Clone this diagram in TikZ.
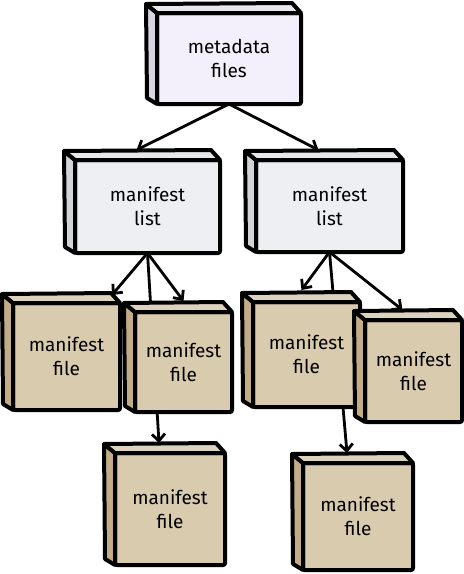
\documentclass[tikz,border=0pt]{standalone}
\usepackage{fontspec}
\setmainfont{Fira Sans}
\usetikzlibrary{arrows.meta,calc}
\pgfdeclarelayer{back}
\pgfsetlayers{back,main}
\definecolor{metafill}{HTML}{F4F0FB}
\definecolor{metaside}{HTML}{D9D4E2}
\definecolor{listfill}{HTML}{EDEFF3}
\definecolor{listside}{HTML}{D2D4D8}
\definecolor{filefill}{HTML}{D9CBAE}
\definecolor{fileside}{HTML}{C2AD88}
\tikzset{
  box/.style={draw=black, line width=4pt, rounded corners=2pt, align=center, inner sep=0pt,
    outer sep=0pt, font=\fontsize{19}{24}\selectfont},
  metabox/.style={box, fill=metafill},
  listbox/.style={box, fill=listfill},
  filebox/.style={box, fill=filefill},
  face/.style={line width=4pt, line join=round},
  link/.style={line width=2.8pt, -{Straight Barb[length=7pt,width=13pt,line width=2.8pt]}},
}
\begin{document}
\begin{tikzpicture}[x=1pt,y=-1pt]
\useasboundingbox (0,0) rectangle (464,574);
% metadata
\node[metabox, minimum width=144pt, minimum height=91pt] (meta) at (229,58.5) {metadata\\files};
% manifest lists
\node[listbox, minimum width=145pt, minimum height=93pt] (listL) at (147.5,206.5) {manifest\\list};
\node[listbox, minimum width=147pt, minimum height=92pt] (listR) at (329.5,206) {manifest\\list};
% manifest files
\node[filebox, minimum width=107pt, minimum height=107pt] (fileA) at (66.5,356.5) {manifest\\file};
\node[filebox, minimum width=97pt, minimum height=100pt] (fileB) at (183.5,362) {manifest\\file};
\node[filebox, minimum width=107pt, minimum height=105pt] (fileC) at (306.5,354.5) {manifest\\file};
\node[filebox, minimum width=97pt, minimum height=102pt] (fileD) at (413.5,371) {manifest\\file};
\node[filebox, minimum width=110pt, minimum height=112pt] (fileE) at (170,509) {manifest\\file};
\node[filebox, minimum width=110pt, minimum height=107pt] (fileF) at (358,516.5) {manifest\\file};
% left and top faces
\foreach \n/\c in {meta/metaside, listL/listside, listR/listside, fileA/fileside,
    fileB/fileside, fileC/fileside, fileD/fileside, fileE/fileside, fileF/fileside} {
  \filldraw[face, fill=\c] (\n.north west) -- ++(-11,-9) -- ($(\n.south west)+(-10,-6)$)
    -- (\n.south west) -- cycle;
  \filldraw[face, fill=\c!55!white] (\n.north west) -- ++(-11,-9) -- ($(\n.north east)+(-9,-10)$)
    -- (\n.north east) -- cycle;
}
% connectors
\begin{pgfonlayer}{back}
\draw[link] (meta.south) -- ([shift={(-11,-10)}]listL.north);
\draw[link] (meta.south) -- ([shift={(-11,-10)}]listR.north);
\draw[link] (listL.south) -- ([shift={(-8,-8)}]fileA.north east);
\draw[link] (listL.south) -- ([shift={(0,-11)}]fileB.north);
\draw[link] (listL.south) -- ([shift={(-11,-10)}]fileE.north);
\draw[link] (listR.south) -- ([shift={(-5,-12)}]fileC.north);
\draw[link] (listR.south) -- ([shift={(-11,-10)}]fileD.north);
\draw[link] (listR.south) -- ([shift={(-11,-10)}]fileF.north);
\end{pgfonlayer}
\end{tikzpicture}
\end{document}
